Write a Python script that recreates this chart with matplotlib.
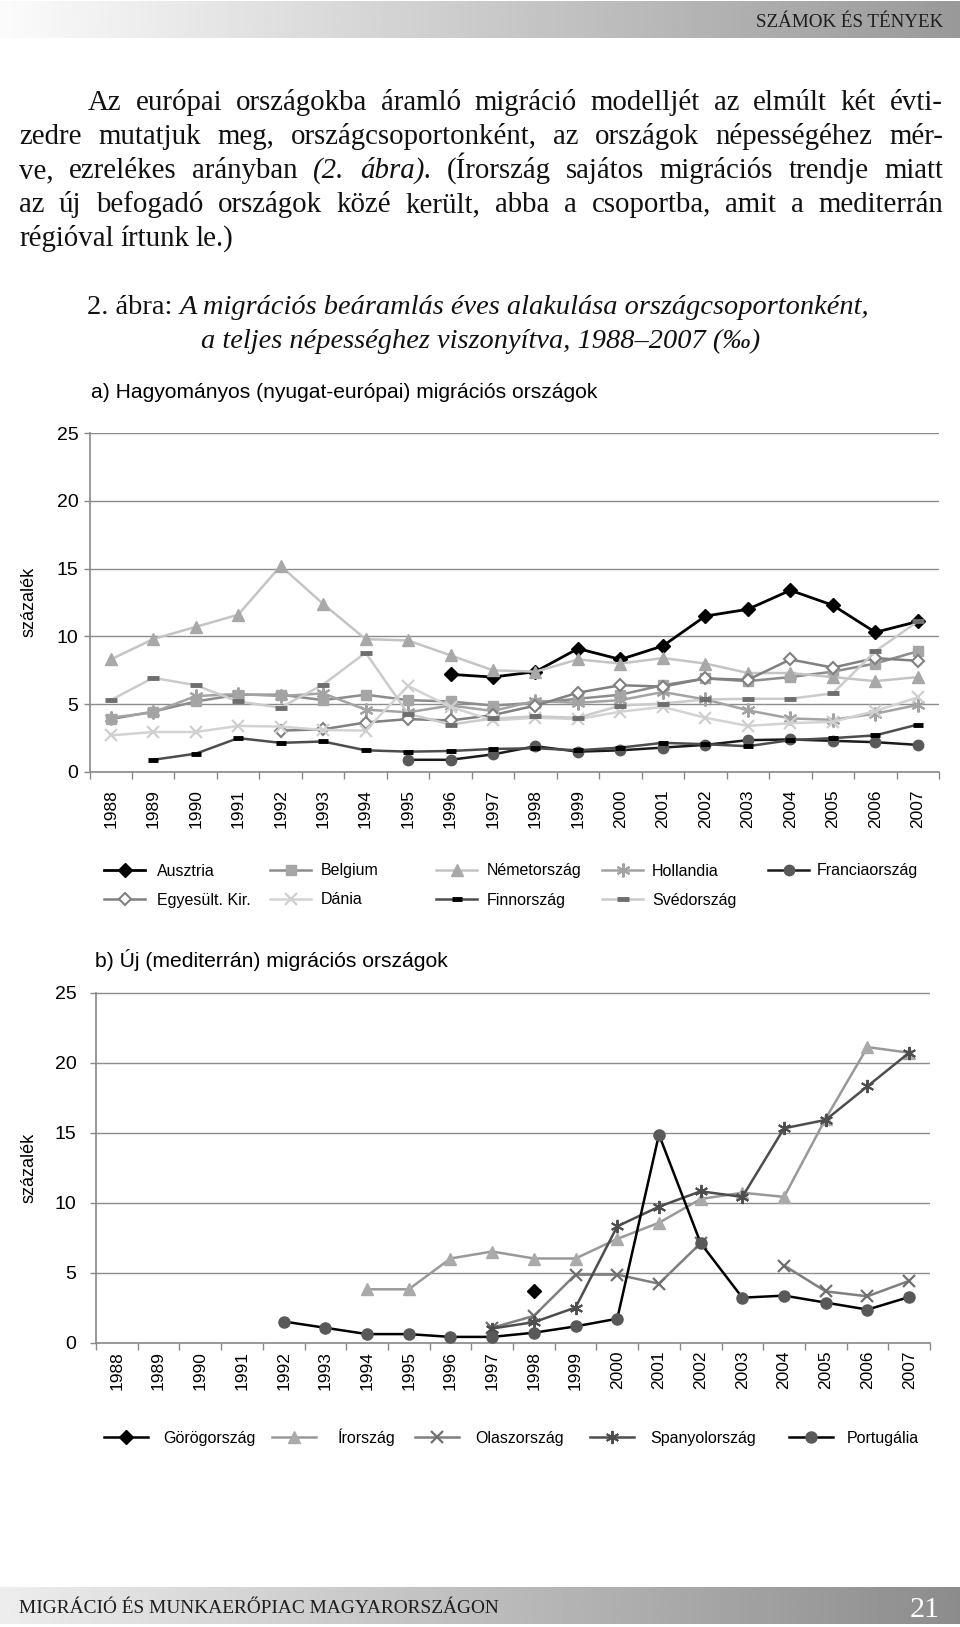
import numpy as np
import matplotlib
matplotlib.use('Agg')
import matplotlib.pyplot as plt
from matplotlib.lines import Line2D

# ---------------- data ----------------
years = list(range(1988, 2008))
year_labels = [str(y) for y in years]
N = np.nan

# a) traditional (western european) countries
ausztria = [N, N, N, N, N, N, N, N, 7.2, 7.0, 7.4, 9.1, 8.3, 9.3, 11.5, 12.0, 13.4, 12.3, 10.3, 11.1]
belgium = [3.9, 4.45, 5.2, 5.7, 5.7, 5.3, 5.7, 5.3, 5.2, 4.9, 5.1, 5.4, 5.7, 6.4, 6.9, 6.7, 7.0, 7.4, 8.0, 8.9]
nemetorszag = [8.3, 9.8, 10.7, 11.6, 15.2, 12.4, 9.8, 9.7, 8.6, 7.5, 7.4, 8.3, 8.0, 8.4, 8.0, 7.3, 7.3, 7.0, 6.7, 7.0]
hollandia = [4.0, 4.4, 5.6, 5.75, 5.6, 5.8, 4.6, 4.4, 4.9, 4.5, 5.25, 5.1, 5.3, 5.9, 5.35, 4.55, 3.95, 3.85, 4.3, 4.95]
franciaorszag = [N, N, N, N, N, N, N, 0.9, 0.9, 1.3, 1.9, 1.5, 1.6, 1.8, 2.0, 2.35, 2.4, 2.3, 2.2, 2.0]
egyesult_kir = [N, N, N, N, 3.05, 3.15, 3.65, 3.9, 3.8, 4.2, 4.9, 5.85, 6.4, 6.3, 6.9, 6.8, 8.3, 7.7, 8.4, 8.2]
dania = [2.7, 2.95, 2.95, 3.4, 3.35, 3.1, 3.05, 6.35, 4.8, 3.8, 4.0, 3.9, 4.45, 4.8, 4.0, 3.4, 3.6, 3.7, 4.5, 5.5]
finnorszag = [N, 0.9, 1.35, 2.5, 2.15, 2.25, 1.6, 1.5, 1.55, 1.7, 1.75, 1.6, 1.8, 2.15, 2.05, 1.9, 2.35, 2.5, 2.7, 3.5]
svedorszag = [5.3, 6.95, 6.4, 5.2, 4.75, 6.45, 8.8, 4.3, 3.5, 3.95, 4.1, 4.0, 4.9, 5.05, 5.35, 5.4, 5.4, 5.8, 8.9, 11.1]

# b) new (mediterranean) countries
gorogorszag = [N, N, N, N, N, N, N, N, N, N, 3.65, N, N, N, N, N, N, N, N, N]
irorszag = [N, N, N, N, N, N, 3.8, 3.8, 6.0, 6.5, 6.0, 6.0, 7.4, 8.55, 10.25, 10.7, 10.4, 16.0, 21.1, 20.7]
olaszorszag = [N, N, N, N, N, N, N, N, N, 1.05, 1.9, 4.85, 4.85, 4.2, 7.1, N, 5.5, 3.65, 3.3, 4.4]
spanyolorszag = [N, N, N, N, N, N, N, N, N, 1.0, 1.45, 2.5, 8.3, 9.7, 10.8, 10.4, 15.3, 15.9, 18.3, 20.7]
portugalia = [N, N, N, N, 1.5, 1.05, 0.6, 0.6, 0.4, 0.4, 0.7, 1.15, 1.7, 14.85, 7.1, 3.2, 3.35, 2.85, 2.35, 3.25]

labels_a = ['Ausztria', 'Belgium', 'Németország', 'Hollandia', 'Franciaország',
            'Egyesült. Kir.', 'Dánia', 'Finnország', 'Svédország']
labels_b = ['Görögország', 'Írország', 'Olaszország', 'Spanyolország', 'Portugália']

# ---------------- styles ----------------
AST = (6, 2, 0)
styles_a = {
    'Ausztria': dict(color='#000000', lw=2.0, marker='D', ms=7.5, mfc='#000000', mec='#000000'),
    'Belgium': dict(color='#8c8c8c', lw=1.8, marker='s', ms=7.5, mfc='#a6a6a6', mec='#a6a6a6'),
    'Németország': dict(color='#c4c4c4', lw=1.8, marker='^', ms=9, mfc='#a8a8a8', mec='#a8a8a8'),
    'Hollandia': dict(color='#a3a3a3', lw=1.8, marker=AST, ms=10, mfc='none', mec='#a3a3a3', mew=1.5),
    'Franciaország': dict(color='#1a1a1a', lw=1.8, marker='o', ms=7.5, mfc='#595959', mec='#595959'),
    'Egyesült. Kir.': dict(color='#808080', lw=1.8, marker='D', ms=6.5, mfc='white', mec='#808080', mew=1.5),
    'Dánia': dict(color='#d3d3d3', lw=1.8, marker='x', ms=8, mfc='none', mec='#cfcfcf', mew=1.6),
    'Finnország': dict(color='#4d4d4d', lw=1.8, marker='_', ms=7, mfc='#000000', mec='#000000', mew=3.5),
    'Svédország': dict(color='#cbcbcb', lw=1.8, marker='_', ms=8, mfc='#6e6e6e', mec='#6e6e6e', mew=3.5),
}
styles_b = {
    'Görögország': dict(color='#000000', lw=1.8, marker='D', ms=7.5, mfc='#000000', mec='#000000'),
    'Írország': dict(color='#999999', lw=1.8, marker='^', ms=9, mfc='#aaaaaa', mec='#aaaaaa'),
    'Olaszország': dict(color='#7f7f7f', lw=1.8, marker='x', ms=9, mfc='none', mec='#6f6f6f', mew=1.6),
    'Spanyolország': dict(color='#4d4d4d', lw=1.8, marker=AST, ms=9.5, mfc='none', mec='#4d4d4d', mew=1.4),
    'Portugália': dict(color='#000000', lw=1.8, marker='o', ms=8, mfc='#595959', mec='#595959'),
}
series_a = [ausztria, belgium, nemetorszag, hollandia, franciaorszag,
            egyesult_kir, dania, finnorszag, svedorszag]
series_b = [gorogorszag, irorszag, olaszorszag, spanyolorszag, portugalia]

SANS = 'Liberation Sans'
SERIF = 'Liberation Serif'
W, H = 960, 1627
fig = plt.figure(figsize=(W / 100, H / 100), dpi=100)
fig.patch.set_facecolor('white')
renderer = fig.canvas.get_renderer()


def fx(px):
    return px / W


def fy(py):
    return 1 - py / H


def width_of(t):
    return t.get_window_extent(renderer=renderer).width


def fit_text(x, y, s, target_w, size0=14, ha='left', va='baseline', **kw):
    t = fig.text(fx(x), fy(y), s, fontsize=size0, ha=ha, va=va, **kw)
    w = width_of(t)
    t.set_fontsize(size0 * target_w / w)
    return t


# ---------------- header / footer bars ----------------
axh = fig.add_axes([0, fy(38), 1, 37 / H])
axh.imshow(np.linspace(0.985, 0.6, 512)[None, :], aspect='auto', cmap='gray',
           vmin=0, vmax=1, extent=[0, 1, 0, 1])
axh.axis('off')
fit_text(943, 27, 'SZÁMOK ÉS TÉNYEK', 189, size0=14, ha='right', family=SERIF, color='#1e1e1e')

axf = fig.add_axes([0, fy(1624), 1, 37 / H])
axf.imshow(np.linspace(0.93, 0.55, 512)[None, :], aspect='auto', cmap='gray',
           vmin=0, vmax=1, extent=[0, 1, 0, 1])
axf.axis('off')
fit_text(19, 1613, 'MIGRÁCIÓ ÉS MUNKAERŐPIAC MAGYARORSZÁGON', 482, size0=14,
         family=SERIF, color='#1e1e1e')
fit_text(940, 1617, '21', 30, size0=20, ha='right', family=SERIF, color='white')

# ---------------- paragraph (justified) ----------------
PSIZE = 20.8
par_lines = [
    (88, [('Az', 'normal'), ('európai', 'normal'), ('országokba', 'normal'), ('áramló', 'normal'),
          ('migráció', 'normal'), ('modelljét', 'normal'), ('az', 'normal'), ('elmúlt', 'normal'),
          ('két', 'normal'), ('évti-', 'normal')], 110, True),
    (19, [('zedre', 'normal'), ('mutatjuk', 'normal'), ('meg,', 'normal'),
          ('országcsoportonként,', 'normal'), ('az', 'normal'), ('országok', 'normal'),
          ('népességéhez', 'normal'), ('mér-', 'normal')], 144, True),
    (19, [('ve,', 'normal'), ('ezrelékes', 'normal'), ('arányban', 'normal'), ('(2.', 'italic'),
          ('ábra).', 'italic'), ('(Írország', 'normal'), ('sajátos', 'normal'),
          ('migrációs', 'normal'), ('trendje', 'normal'), ('miatt', 'normal')], 178, True),
    (19, [('az', 'normal'), ('új', 'normal'), ('befogadó', 'normal'), ('országok', 'normal'),
          ('közé', 'normal'), ('került,', 'normal'), ('abba', 'normal'), ('a', 'normal'),
          ('csoportba,', 'normal'), ('amit', 'normal'), ('a', 'normal'), ('mediterrán', 'normal')],
     212, True),
    (19, [('régióval', 'normal'), ('írtunk', 'normal'), ('le.)', 'normal')], 246, False),
]
for x0, words, yb, just in par_lines:
    size = PSIZE
    texts = []
    for wtxt, st in words:
        t = fig.text(0, fy(yb), wtxt, fontsize=size, family=SERIF, style=st,
                     ha='left', va='baseline', color='#111111')
        texts.append(t)
    widths = [width_of(t) for t in texts]
    sp = size * 100 / 72 * 0.25
    if just:
        total = sum(widths)
        gap = (943 - x0 - total) / (len(words) - 1)
        if gap < sp * 0.6:
            scale = (943 - x0 - sp * 0.6 * (len(words) - 1)) / total
            for t in texts:
                t.set_fontsize(size * scale)
            widths = [w * scale for w in widths]
            gap = sp * 0.6
    else:
        gap = sp * 0.9
    x = x0
    for t, w in zip(texts, widths):
        t.set_x(fx(x))
        x += w + gap

# ---------------- caption ----------------
c1a = fig.text(0, fy(314), '2. ábra:', fontsize=17, family=SERIF, ha='left', va='baseline', color='#111111')
c1b = fig.text(0, fy(314), 'A migrációs beáramlás éves alakulása országcsoportonként,',
               fontsize=17, family=SERIF, style='italic', ha='left', va='baseline', color='#111111')
spc = 17 * 100 / 72 * 0.25
wa, wb = width_of(c1a), width_of(c1b)
sc = 785 / (wa + wb + spc)
c1a.set_fontsize(17 * sc)
c1b.set_fontsize(17 * sc)
c1a.set_x(fx(87))
c1b.set_x(fx(87 + (wa + spc) * sc))
fit_text(481, 348, 'a teljes népességhez viszonyítva, 1988–2007 (‰)', 558, size0=17 * sc,
         ha='center', family=SERIF, style='italic', color='#111111')

# ---------------- chart titles ----------------
fit_text(91, 398, 'a) Hagyományos (nyugat-európai) migrációs országok', 511, size0=14,
         family=SANS, color='#000000')
fit_text(95, 967, 'b) Új (mediterrán) migrációs országok', 357, size0=14,
         family=SANS, color='#000000')


def style_axes(ax, xpad, ypad):
    ax.set_xlim(-0.5, 19.5)
    ax.set_ylim(0, 25)
    ax.set_yticks(range(0, 26, 5))
    ax.set_xticks(np.arange(len(years)))
    ax.set_xticklabels(year_labels, rotation=90, fontsize=12.5, family=SANS)
    ax.set_xticks(np.arange(-0.5, len(years), 1), minor=True)
    ax.tick_params(axis='x', which='major', length=0, pad=xpad)
    ax.tick_params(axis='x', which='minor', length=5, color='#888888', direction='out', width=1)
    ax.tick_params(axis='y', length=4, color='#888888', width=1, pad=ypad, labelsize=14)
    for lab in ax.get_yticklabels():
        lab.set_family(SANS)
    for s in ['top', 'right']:
        ax.spines[s].set_visible(False)
    for s in ['left', 'bottom']:
        ax.spines[s].set_color('#888888')
        ax.spines[s].set_linewidth(1.2)
    ax.yaxis.grid(True, color='#8c8c8c', lw=1.0)
    ax.set_axisbelow(True)


x = np.arange(len(years))

# ---------------- chart a ----------------
axa = fig.add_axes([fx(89.5), fy(772), (939 - 89.5) / W, 339 / H])
for lab, vals in zip(labels_a, series_a):
    st = styles_a[lab]
    axa.plot(x, vals, linestyle='-', clip_on=False, zorder=3, **st)
style_axes(axa, xpad=12.5, ypad=4)
fig.text(fx(29), fy(602), 'százalék', rotation=90, ha='center', va='center',
         fontsize=13, family=SANS)

# ---------------- chart b ----------------
axb = fig.add_axes([fx(96), fy(1342.5), (930 - 96) / W, 350 / H])
for lab, vals in zip(labels_b, series_b):
    st = styles_b[lab]
    axb.plot(x, vals, linestyle='-', clip_on=False, zorder=3, **st)
style_axes(axb, xpad=6, ypad=10)
fig.text(fx(29), fy(1168), 'százalék', rotation=90, ha='center', va='center',
         fontsize=13, family=SANS)


# ---------------- legends ----------------
def legend_item(xh, y, hl, xt, label, st):
    y0 = fy(y)
    fig.add_artist(Line2D([fx(xh), fx(xh + hl)], [y0, y0], transform=fig.transFigure,
                          color=st['color'], lw=st['lw']))
    mk = {k: v for k, v in st.items() if k not in ('color', 'lw')}
    fig.add_artist(Line2D([fx(xh + hl / 2)], [y0], transform=fig.transFigure,
                          linestyle='none', **mk))
    fig.text(fx(xt), fy(y + 5.5), label, ha='left', va='baseline', fontsize=11.5, family=SANS)


cols_h = [104, 270, 436, 602, 768]
cols_t = [157, 321, 487, 652, 817]
for i, lab in enumerate(labels_a):
    r, c = divmod(i, 5)
    legend_item(cols_h[c], 870 + 29 * r, 41, cols_t[c], lab, styles_a[lab])

cols_hb = [104, 272, 415, 590, 789]
cols_tb = [163, 338, 475, 650, 847]
for i, lab in enumerate(labels_b):
    legend_item(cols_hb[i], 1437, 44, cols_tb[i], lab, styles_b[lab])

fig.savefig('out.png', dpi=100, facecolor='white')
